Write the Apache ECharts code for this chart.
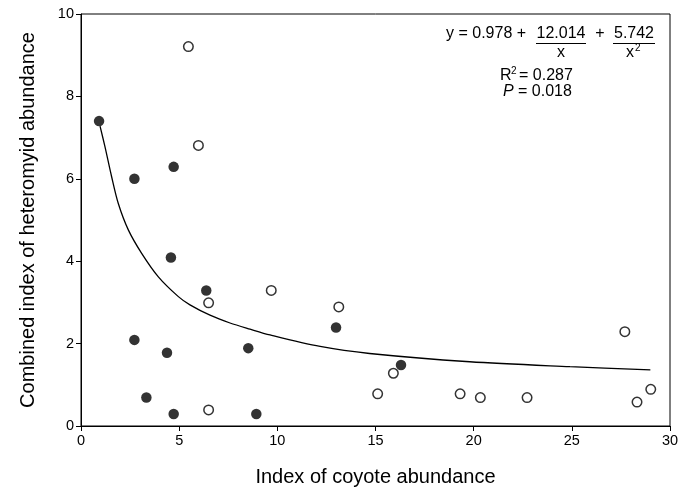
<!DOCTYPE html>
<html>
<head>
<meta charset="utf-8">
<script src="https://cdn.jsdelivr.net/npm/echarts@6/dist/echarts.min.js"></script>
<style>
  html, body { margin: 0; padding: 0; background: #fff; }
  #chart { width: 689px; height: 494px; }
</style>
</head>
<body>
<div id="chart"></div>
<script>
// filled circles
const filledX = [0.92, 2.72, 4.72, 4.58, 6.38, 2.72, 4.38, 3.33, 4.72, 8.52, 8.93, 12.99, 16.30];
const filledY = [7.40, 6.00, 6.29, 4.09, 3.29, 2.09, 1.78, 0.69, 0.29, 1.89, 0.29, 2.39, 1.48];

// open circles
const openX = [5.47, 5.98, 6.50, 6.50, 9.69, 13.13, 15.91, 15.11, 19.31, 20.34, 22.72, 27.70, 28.32, 29.02];
const openY = [9.21, 6.81, 2.99, 0.39, 3.29, 2.89, 1.28, 0.78, 0.78, 0.69, 0.69, 2.29, 0.58, 0.89];

// fitted curve
const curveX = [0.97, 1.22, 1.56, 1.90, 2.41, 3.09, 3.94, 4.96, 5.55, 6.57, 7.59, 8.61, 9.63, 12.18, 14.7, 19.8, 24.9, 29.0];
const curveY = [7.28, 6.78, 6.05, 5.40, 4.76, 4.19, 3.62, 3.14, 2.94, 2.69, 2.50, 2.35, 2.21, 1.93, 1.76, 1.56, 1.44, 1.36];

const xTicks = { min: 0, max: 30, step: 5 };
const yTicks = { min: 0, max: 10, step: 2 };

const font = 'Liberation Sans, Arial, sans-serif';
const eqFont = '16px ' + font;
const supFont = '10px ' + font;
const zip = (xs, ys) => xs.map((x, i) => [x, ys[i]]);

const chart = echarts.init(document.getElementById('chart'), null, { renderer: 'canvas' });

const axisCommon = {
  axisLine: { show: true, onZero: false, lineStyle: { color: '#000', width: 1 } },
  axisTick: { show: true, inside: false, length: 5, lineStyle: { color: '#000' } },
  splitLine: { show: false },
  axisLabel: { color: '#000', fontSize: 14.5, fontFamily: font },
  nameTextStyle: { color: '#000', fontSize: 20, fontFamily: font },
  nameLocation: 'middle',
};

chart.setOption({
  animation: false,
  grid: { left: 81, right: 19, top: 14, bottom: 68, show: true, borderColor: '#000', borderWidth: 1 },
  xAxis: {
    ...axisCommon,
    type: 'value', min: xTicks.min, max: xTicks.max, interval: xTicks.step,
    name: 'Index of coyote abundance', nameGap: 41,
    axisLabel: { ...axisCommon.axisLabel, margin: 7 },
  },
  yAxis: {
    ...axisCommon,
    type: 'value', min: yTicks.min, max: yTicks.max, interval: yTicks.step,
    name: 'Combined index of heteromyid abundance', nameGap: 43,
    axisLabel: { ...axisCommon.axisLabel, margin: 7 },
  },
  series: [
    {
      type: 'line', data: zip(curveX, curveY), smooth: 0.3, showSymbol: false,
      lineStyle: { color: '#000', width: 1.3 }, z: 2,
    },
    {
      type: 'scatter', data: zip(filledX, filledY), symbolSize: 10.5,
      itemStyle: { color: '#000' }, z: 3,
    },
    {
      type: 'scatter', data: zip(openX, openY), symbolSize: 9.5,
      itemStyle: { color: '#fff', borderColor: '#000', borderWidth: 1.5 }, z: 3,
    },
  ],
  graphic: [
    { type: 'text', x: 446, y: 26, style: { text: 'y = 0.978 +', font: eqFont, fill: '#000' } },
    { type: 'text', x: 561, y: 26, style: { text: '12.014', font: eqFont, fill: '#000', align: 'center' } },
    { type: 'line', shape: { x1: 536, y1: 43.5, x2: 586, y2: 43.5 }, style: { stroke: '#000', lineWidth: 1 } },
    { type: 'text', x: 561, y: 45, style: { text: 'x', font: eqFont, fill: '#000', align: 'center' } },
    { type: 'text', x: 600, y: 26, style: { text: '+', font: eqFont, fill: '#000', align: 'center' } },
    { type: 'text', x: 634, y: 26, style: { text: '5.742', font: eqFont, fill: '#000', align: 'center' } },
    { type: 'line', shape: { x1: 613, y1: 43.5, x2: 655, y2: 43.5 }, style: { stroke: '#000', lineWidth: 1 } },
    { type: 'text', x: 630, y: 45, style: { text: 'x', font: eqFont, fill: '#000', align: 'center' } },
    { type: 'text', x: 635, y: 43, style: { text: '2', font: supFont, fill: '#000' } },
    { type: 'text', x: 500, y: 68, style: { text: 'R', font: eqFont, fill: '#000' } },
    { type: 'text', x: 511, y: 66, style: { text: '2', font: supFont, fill: '#000' } },
    { type: 'text', x: 519, y: 68, style: { text: '= 0.287', font: eqFont, fill: '#000' } },
    { type: 'text', x: 503, y: 84, style: { text: 'P', font: 'italic ' + eqFont, fill: '#000' } },
    { type: 'text', x: 518, y: 84, style: { text: '= 0.018', font: eqFont, fill: '#000' } },
  ],
});
</script>
</body>
</html>
